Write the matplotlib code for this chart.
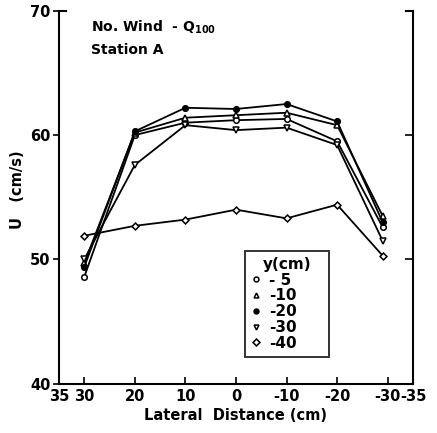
import matplotlib
matplotlib.use("Agg")
from matplotlib import pyplot as plt

# lateral positions (cm)
lateral = [30, 20, 10, 0, -10, -20, -29]

# U (cm/s) per depth y
u_y5 = [48.6, 60.0, 61.0, 61.2, 61.3, 59.5, 52.6]
u_y10 = [49.7, 60.2, 61.4, 61.6, 61.8, 60.8, 53.5]
u_y20 = [49.4, 60.3, 62.2, 62.1, 62.5, 61.1, 53.0]
u_y30 = [50.0, 57.6, 60.8, 60.4, 60.6, 59.2, 51.5]
u_y40 = [51.9, 52.7, 53.2, 54.0, 53.3, 54.4, 50.3]

labels = ["- 5", "-10", "-20", "-30", "-40"]
xticks = [35, 30, 20, 10, 0, -10, -20, -30, -35]
xticklabels = ["35", "30", "20", "10", "0", "-10", "-20", "-30", "-35"]

plt.rcParams["font.family"] = "DejaVu Sans"
plt.rcParams["font.weight"] = "bold"
plt.rcParams["axes.labelweight"] = "bold"

fig = plt.figure(figsize=(4.37, 4.33), dpi=100)
ax = fig.add_axes([0.135, 0.114, 0.81, 0.861])

series = [u_y5, u_y10, u_y20, u_y30, u_y40]
markers = ["o", "^", "o", "v", "D"]
faces = ["white", "white", "black", "white", "white"]
sizes = [4, 4, 4, 4, 3.5]
for vals, m, fc, ms, lab in zip(series, markers, faces, sizes, labels):
    ax.plot(lateral, vals, color="black", lw=1.3, marker=m, ms=ms,
            mfc=fc, mec="black", mew=1.1, label=lab)

ax.set_xlim(35, -35)
ax.set_ylim(40, 70)
ax.set_xticks(xticks)
ax.set_xticklabels(xticklabels)
ax.set_yticks([40, 50, 60, 70])

ax.spines["top"].set_visible(False)
for s in ["left", "right", "bottom"]:
    ax.spines[s].set_linewidth(1.5)

ax.tick_params(axis="x", direction="in", length=5, width=1.2, pad=4, labelsize=10.5)
ax.tick_params(axis="y", direction="out", length=4, width=1.2, pad=2, labelsize=10.5,
               right=True, labelright=False)
for t in ax.yaxis.get_major_ticks():
    t.tick2line.set_marker(matplotlib.lines.TICKLEFT)
    t.tick2line.set_markersize(6)

# small top corner stubs
ax.plot([0, 0.02], [1, 1], transform=ax.transAxes, color="black", lw=1.5, clip_on=False)
ax.plot([0.98, 1], [1, 1], transform=ax.transAxes, color="black", lw=1.5, clip_on=False)

ax.set_xlabel("Lateral  Distance (cm)", fontsize=10.5, labelpad=3)
ax.set_ylabel("U   (cm/s)", fontsize=10.5)
ax.yaxis.set_label_coords(-0.095, 0.52)

ax.text(0.09, 0.955, r"No. Wind  - Q$_{\mathbf{100}}$", transform=ax.transAxes,
        fontsize=10, va="center")
ax.text(0.09, 0.895, "Station A", transform=ax.transAxes, fontsize=10, va="center")

leg = ax.legend(loc="lower left", bbox_to_anchor=(0.525, 0.072, 0.238, 0.30),
                mode="expand", title="y(cm)", fontsize=11, title_fontsize=11,
                handlelength=0.6, handletextpad=0.6, labelspacing=0.05,
                frameon=True, fancybox=False, borderpad=0.4, borderaxespad=0)
leg.get_frame().set_edgecolor("black")
leg.get_frame().set_linewidth(1.4)
for h in leg.legend_handles:
    h.set_linestyle("none")
    h.set_markersize(3.5)

fig.savefig("out.png", dpi=100)
